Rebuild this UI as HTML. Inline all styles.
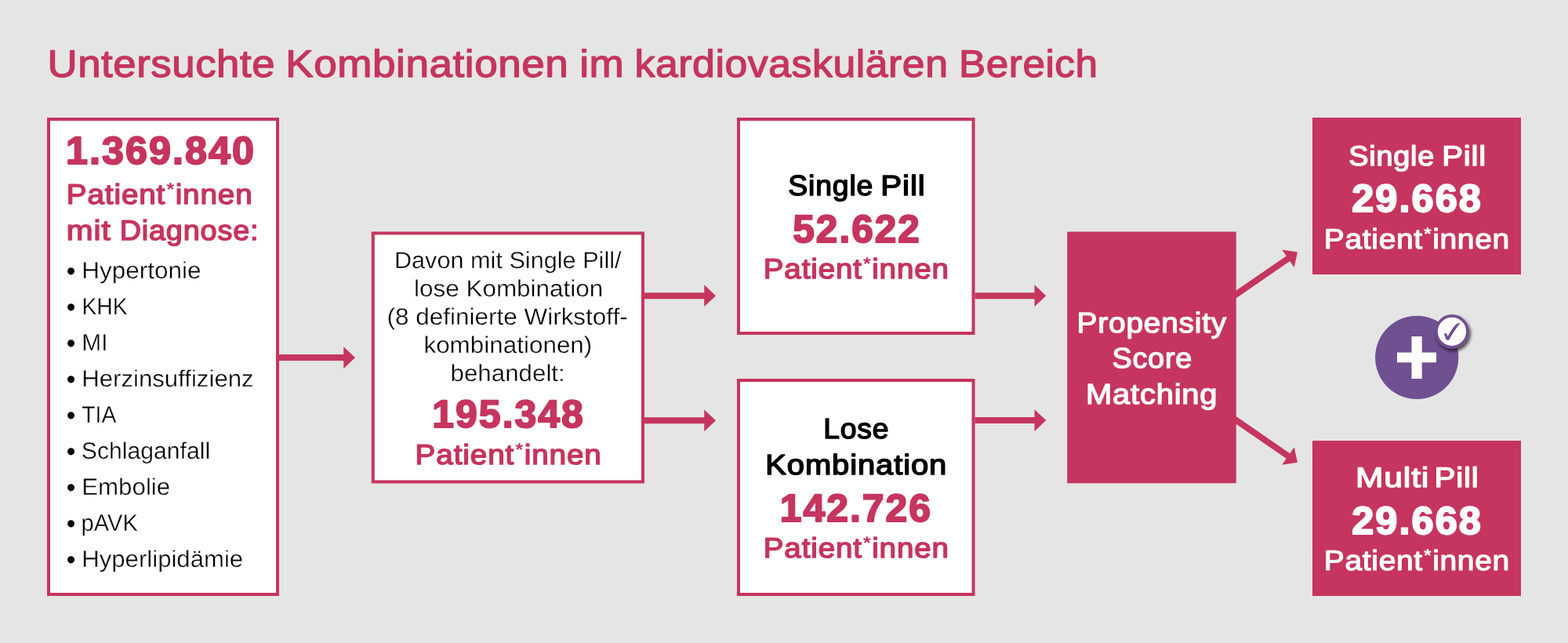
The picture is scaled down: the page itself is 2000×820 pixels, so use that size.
<!DOCTYPE html>
<html lang="de">
<head>
<meta charset="utf-8">
<title>Untersuchte Kombinationen im kardiovaskulären Bereich</title>
<style>
html,body{margin:0;padding:0;background:#e5e5e5;}
body{width:2000px;height:820px;overflow:hidden;font-family:"Liberation Sans",sans-serif;}
svg{display:block;font-family:"Liberation Sans",sans-serif;text-rendering:geometricPrecision;}
</style>
</head>
<body>
<svg width="2000" height="820" viewBox="0 0 2000 820">
<defs>
<filter id="sh" x="-50%" y="-50%" width="200%" height="200%">
<feGaussianBlur in="SourceAlpha" stdDeviation="2.2"/>
<feOffset dx="2.2" dy="2.8" result="o"/>
<feComponentTransfer><feFuncA type="linear" slope="0.7"/></feComponentTransfer>
<feMerge><feMergeNode/><feMergeNode in="SourceGraphic"/></feMerge>
</filter>
</defs>
<rect width="2000" height="820" fill="#e5e5e5"/>
<g fill="#c5355f">
<path d="M-12.00 -4.00H80.42V-13.60L95.02 0L80.42 13.60V4.00H-12.00Z" transform="translate(1576.75 375.30) rotate(-34.560)"/>
<path d="M-12.00 -4.00H80.36V-13.60L94.96 0L80.36 13.60V4.00H-12.00Z" transform="translate(1576.75 535.90) rotate(34.510)"/>
</g>
<g fill="#fff" stroke="#c5355f" stroke-width="4">
<rect x="62.00" y="152.00" width="292.00" height="606.00"/>
<rect x="475.80" y="297.40" width="344.20" height="317.00"/>
<rect x="942.00" y="152.00" width="299.50" height="273.00"/>
<rect x="942.00" y="485.00" width="299.50" height="273.00"/>
</g>
<g fill="#c5355f">
<rect x="1361.25" y="295.50" width="215.50" height="320.75"/>
<rect x="1674.00" y="150.00" width="266.00" height="200.00"/>
<rect x="1674.00" y="562.00" width="266.00" height="198.00"/>
<path d="M356.00 452.10H438.25V442.20L453.00 456.10L438.25 470.00V460.10H356.00Z"/>
<path d="M822.00 373.20H898.25V363.30L913.00 377.20L898.25 391.10V381.20H822.00Z"/>
<path d="M822.00 532.30H898.25V522.40L913.00 536.30L898.25 550.20V540.30H822.00Z"/>
<path d="M1243.50 373.20H1319.50V363.30L1334.25 377.20L1319.50 391.10V381.20H1243.50Z"/>
<path d="M1243.50 532.10H1319.50V522.20L1334.25 536.10L1319.50 550.00V540.10H1243.50Z"/>
</g>
<circle cx="1807.2" cy="455.9" r="53.1" fill="#6f5091"/>
<path d="M1782 449.5H1800.5V429H1813.7V449.5H1832V462.3H1813.7V483H1800.5V462.3H1782Z" fill="#fff"/>
<circle cx="1852" cy="422.8" r="19.95" fill="#fff" stroke="#6f5091" stroke-width="3.7" filter="url(#sh)"/>
<path transform="translate(1822 393) scale(0.07317)" d="M272 450C284 436 306 432 318 444L338 492C380 405 440 318 492 274C510 262 536 257 553 262C500 322 420 442 366 542C354 560 320 562 306 544Z" fill="#6f5091"/>
<text transform="translate(60.56 98.00) scale(1.0803 1)" font-size="48.87" font-weight="400" fill="#c5355f" stroke="#c5355f" stroke-width="1.30" stroke-linejoin="round" letter-spacing="0.50">Untersuchte</text>
<text transform="translate(364.27 98.00) scale(1.0863 1)" font-size="48.87" font-weight="400" fill="#c5355f" stroke="#c5355f" stroke-width="1.30" stroke-linejoin="round" letter-spacing="0.50">Kombinationen</text>
<text transform="translate(739.29 98.00) scale(1.0851 1)" font-size="48.87" font-weight="400" fill="#c5355f" stroke="#c5355f" stroke-width="1.30" stroke-linejoin="round" letter-spacing="0.50">im</text>
<text transform="translate(809.59 98.00) scale(1.0598 1)" font-size="48.87" font-weight="400" fill="#c5355f" stroke="#c5355f" stroke-width="1.30" stroke-linejoin="round" letter-spacing="0.50">kardiovaskulären</text>
<text transform="translate(1223.09 98.00) scale(1.0491 1)" font-size="48.87" font-weight="400" fill="#c5355f" stroke="#c5355f" stroke-width="1.30" stroke-linejoin="round" letter-spacing="0.50">Bereich</text>
<text transform="translate(84.02 209.00) scale(1.0111 1)" font-size="49.75" font-weight="700" fill="#c5355f" stroke="#c5355f" stroke-width="2.00" stroke-linejoin="round" letter-spacing="2.00">1.369.840</text>
<text transform="translate(84.83 260.00) scale(1.0763 1)" font-size="35.93" font-weight="400" fill="#c5355f" stroke="#c5355f" stroke-width="1.50" stroke-linejoin="round" letter-spacing="0.80">Patient<tspan font-size="23.0" font-weight="700" stroke="none" dx="1.1" dy="-11.5">*</tspan><tspan dx="0.7" dy="11.5">innen</tspan></text>
<text transform="translate(84.82 306.00) scale(1.1295 1)" font-size="35.93" font-weight="400" fill="#c5355f" stroke="#c5355f" stroke-width="1.50" stroke-linejoin="round" letter-spacing="0.80">mit</text>
<text transform="translate(152.63 306.00) scale(1.0520 1)" font-size="35.93" font-weight="400" fill="#c5355f" stroke="#c5355f" stroke-width="1.50" stroke-linejoin="round" letter-spacing="0.80">Diagnose:</text>
<text transform="translate(84.67 357.00) scale(0.9838 1)" font-size="33.70" font-weight="400" fill="#000">•</text>
<text transform="translate(104.22 355.00) scale(1.0489 1)" font-size="30.04" font-weight="400" fill="#000" stroke="#fff" stroke-width="0.35" stroke-linejoin="round">Hypertonie</text>
<text transform="translate(84.67 403.00) scale(0.9838 1)" font-size="33.70" font-weight="400" fill="#000">•</text>
<text transform="translate(104.51 401.00) scale(0.9414 1)" font-size="30.04" font-weight="400" fill="#000" stroke="#fff" stroke-width="0.35" stroke-linejoin="round">KHK</text>
<text transform="translate(84.67 449.00) scale(0.9838 1)" font-size="33.70" font-weight="400" fill="#000">•</text>
<text transform="translate(104.26 447.00) scale(0.9946 1)" font-size="30.04" font-weight="400" fill="#000" stroke="#fff" stroke-width="0.35" stroke-linejoin="round">MI</text>
<text transform="translate(84.67 495.00) scale(0.9838 1)" font-size="33.70" font-weight="400" fill="#000">•</text>
<text transform="translate(104.15 493.00) scale(1.0382 1)" font-size="30.04" font-weight="400" fill="#000" stroke="#fff" stroke-width="0.35" stroke-linejoin="round">Herzinsuffizienz</text>
<text transform="translate(84.67 541.00) scale(0.9838 1)" font-size="33.70" font-weight="400" fill="#000">•</text>
<text transform="translate(104.19 539.00) scale(0.9451 1)" font-size="30.04" font-weight="400" fill="#000" stroke="#fff" stroke-width="0.35" stroke-linejoin="round">TIA</text>
<text transform="translate(84.67 587.00) scale(0.9838 1)" font-size="33.70" font-weight="400" fill="#000">•</text>
<text transform="translate(103.84 585.00) scale(1.0041 1)" font-size="30.04" font-weight="400" fill="#000" stroke="#fff" stroke-width="0.35" stroke-linejoin="round">Schlaganfall</text>
<text transform="translate(84.67 633.00) scale(0.9838 1)" font-size="33.70" font-weight="400" fill="#000">•</text>
<text transform="translate(104.24 631.00) scale(1.0408 1)" font-size="30.04" font-weight="400" fill="#000" stroke="#fff" stroke-width="0.35" stroke-linejoin="round">Embolie</text>
<text transform="translate(84.67 679.00) scale(0.9838 1)" font-size="33.70" font-weight="400" fill="#000">•</text>
<text transform="translate(103.62 677.00) scale(0.9678 1)" font-size="30.04" font-weight="400" fill="#000" stroke="#fff" stroke-width="0.35" stroke-linejoin="round">pAVK</text>
<text transform="translate(84.67 725.00) scale(0.9838 1)" font-size="33.70" font-weight="400" fill="#000">•</text>
<text transform="translate(104.25 723.00) scale(1.0368 1)" font-size="30.04" font-weight="400" fill="#000" stroke="#fff" stroke-width="0.35" stroke-linejoin="round">Hyperlipidämie</text>
<text transform="translate(502.88 342.00) scale(1.0263 1)" font-size="29.89" font-weight="400" fill="#000" stroke="#fff" stroke-width="0.35" stroke-linejoin="round">Davon mit Single Pill/</text>
<text transform="translate(528.03 378.00) scale(1.0523 1)" font-size="29.89" font-weight="400" fill="#000" stroke="#fff" stroke-width="0.35" stroke-linejoin="round">lose Kombination</text>
<text transform="translate(493.59 414.00) scale(1.0531 1)" font-size="29.89" font-weight="400" fill="#000" stroke="#fff" stroke-width="0.35" stroke-linejoin="round">(8 definierte Wirkstoff-</text>
<text transform="translate(540.43 450.00) scale(1.0520 1)" font-size="29.89" font-weight="400" fill="#000" stroke="#fff" stroke-width="0.35" stroke-linejoin="round">kombinationen)</text>
<text transform="translate(574.54 486.00) scale(1.0476 1)" font-size="29.89" font-weight="400" fill="#000" stroke="#fff" stroke-width="0.35" stroke-linejoin="round">behandelt:</text>
<text transform="translate(551.34 545.00) scale(1.0032 1)" font-size="49.75" font-weight="700" fill="#c5355f" stroke="#c5355f" stroke-width="2.00" stroke-linejoin="round" letter-spacing="2.00">195.348</text>
<text transform="translate(529.57 592.00) scale(1.0784 1)" font-size="35.93" font-weight="400" fill="#c5355f" stroke="#c5355f" stroke-width="1.50" stroke-linejoin="round" letter-spacing="0.80">Patient<tspan font-size="23.0" font-weight="700" stroke="none" dx="1.1" dy="-11.5">*</tspan><tspan dx="0.7" dy="11.5">innen</tspan></text>
<text transform="translate(1005.27 249.00) scale(1.0295 1)" font-size="36.36" font-weight="400" fill="#000" stroke="#000" stroke-width="1.50" stroke-linejoin="round" letter-spacing="0.80">Single</text>
<text transform="translate(1123.20 249.00) scale(1.1128 1)" font-size="36.36" font-weight="400" fill="#000" stroke="#000" stroke-width="1.50" stroke-linejoin="round" letter-spacing="0.80">Pill</text>
<text transform="translate(1011.25 309.00) scale(0.9969 1)" font-size="49.75" font-weight="700" fill="#c5355f" stroke="#c5355f" stroke-width="2.00" stroke-linejoin="round" letter-spacing="2.00">52.622</text>
<text transform="translate(973.79 355.00) scale(1.0728 1)" font-size="35.93" font-weight="400" fill="#c5355f" stroke="#c5355f" stroke-width="1.50" stroke-linejoin="round" letter-spacing="0.80">Patient<tspan font-size="23.0" font-weight="700" stroke="none" dx="1.1" dy="-11.5">*</tspan><tspan dx="0.7" dy="11.5">innen</tspan></text>
<text transform="translate(1050.19 559.00) scale(1.0256 1)" font-size="36.36" font-weight="400" fill="#000" stroke="#000" stroke-width="1.50" stroke-linejoin="round" letter-spacing="0.80">Lose</text>
<text transform="translate(976.28 605.00) scale(1.0994 1)" font-size="36.36" font-weight="400" fill="#000" stroke="#000" stroke-width="1.50" stroke-linejoin="round" letter-spacing="0.80">Kombination</text>
<text transform="translate(994.74 665.00) scale(1.0026 1)" font-size="49.75" font-weight="700" fill="#c5355f" stroke="#c5355f" stroke-width="2.00" stroke-linejoin="round" letter-spacing="2.00">142.726</text>
<text transform="translate(973.79 711.00) scale(1.0728 1)" font-size="35.93" font-weight="400" fill="#c5355f" stroke="#c5355f" stroke-width="1.50" stroke-linejoin="round" letter-spacing="0.80">Patient<tspan font-size="23.0" font-weight="700" stroke="none" dx="1.1" dy="-11.5">*</tspan><tspan dx="0.7" dy="11.5">innen</tspan></text>
<text transform="translate(1373.59 424.00) scale(1.0701 1)" font-size="36.36" font-weight="400" fill="#fff" stroke="#fff" stroke-width="1.30" stroke-linejoin="round" letter-spacing="0.70">Propensity</text>
<text transform="translate(1418.46 469.00) scale(1.0418 1)" font-size="36.36" font-weight="400" fill="#fff" stroke="#fff" stroke-width="1.30" stroke-linejoin="round" letter-spacing="0.70">Score</text>
<text transform="translate(1385.03 515.00) scale(1.0993 1)" font-size="36.36" font-weight="400" fill="#fff" stroke="#fff" stroke-width="1.30" stroke-linejoin="round" letter-spacing="0.70">Matching</text>
<text transform="translate(1720.34 211.00) scale(1.0617 1)" font-size="35.64" font-weight="400" fill="#fff" stroke="#fff" stroke-width="1.40" stroke-linejoin="round" letter-spacing="0.70">Single</text>
<text transform="translate(1839.27 211.00) scale(1.1257 1)" font-size="35.64" font-weight="400" fill="#fff" stroke="#fff" stroke-width="1.40" stroke-linejoin="round" letter-spacing="0.70">Pill</text>
<text transform="translate(1724.24 270.00) scale(1.0149 1)" font-size="49.75" font-weight="700" fill="#fff" stroke="#fff" stroke-width="2.00" stroke-linejoin="round" letter-spacing="2.00">29.668</text>
<text transform="translate(1688.86 317.00) scale(1.0858 1)" font-size="35.93" font-weight="400" fill="#fff" stroke="#fff" stroke-width="1.20" stroke-linejoin="round" letter-spacing="0.60">Patient<tspan font-size="23.0" font-weight="700" stroke="none" dx="1.1" dy="-11.5">*</tspan><tspan dx="0.7" dy="11.5">innen</tspan></text>
<text transform="translate(1729.01 621.00) scale(1.1959 1)" font-size="35.64" font-weight="400" fill="#fff" stroke="#fff" stroke-width="1.40" stroke-linejoin="round" letter-spacing="0.70">Multi</text>
<text transform="translate(1829.44 621.00) scale(1.1366 1)" font-size="35.64" font-weight="400" fill="#fff" stroke="#fff" stroke-width="1.40" stroke-linejoin="round" letter-spacing="0.70">Pill</text>
<text transform="translate(1724.24 681.00) scale(1.0149 1)" font-size="49.75" font-weight="700" fill="#fff" stroke="#fff" stroke-width="2.00" stroke-linejoin="round" letter-spacing="2.00">29.668</text>
<text transform="translate(1688.86 727.00) scale(1.0858 1)" font-size="35.93" font-weight="400" fill="#fff" stroke="#fff" stroke-width="1.20" stroke-linejoin="round" letter-spacing="0.60">Patient<tspan font-size="23.0" font-weight="700" stroke="none" dx="1.1" dy="-11.5">*</tspan><tspan dx="0.7" dy="11.5">innen</tspan></text>
</svg>
</body>
</html>
